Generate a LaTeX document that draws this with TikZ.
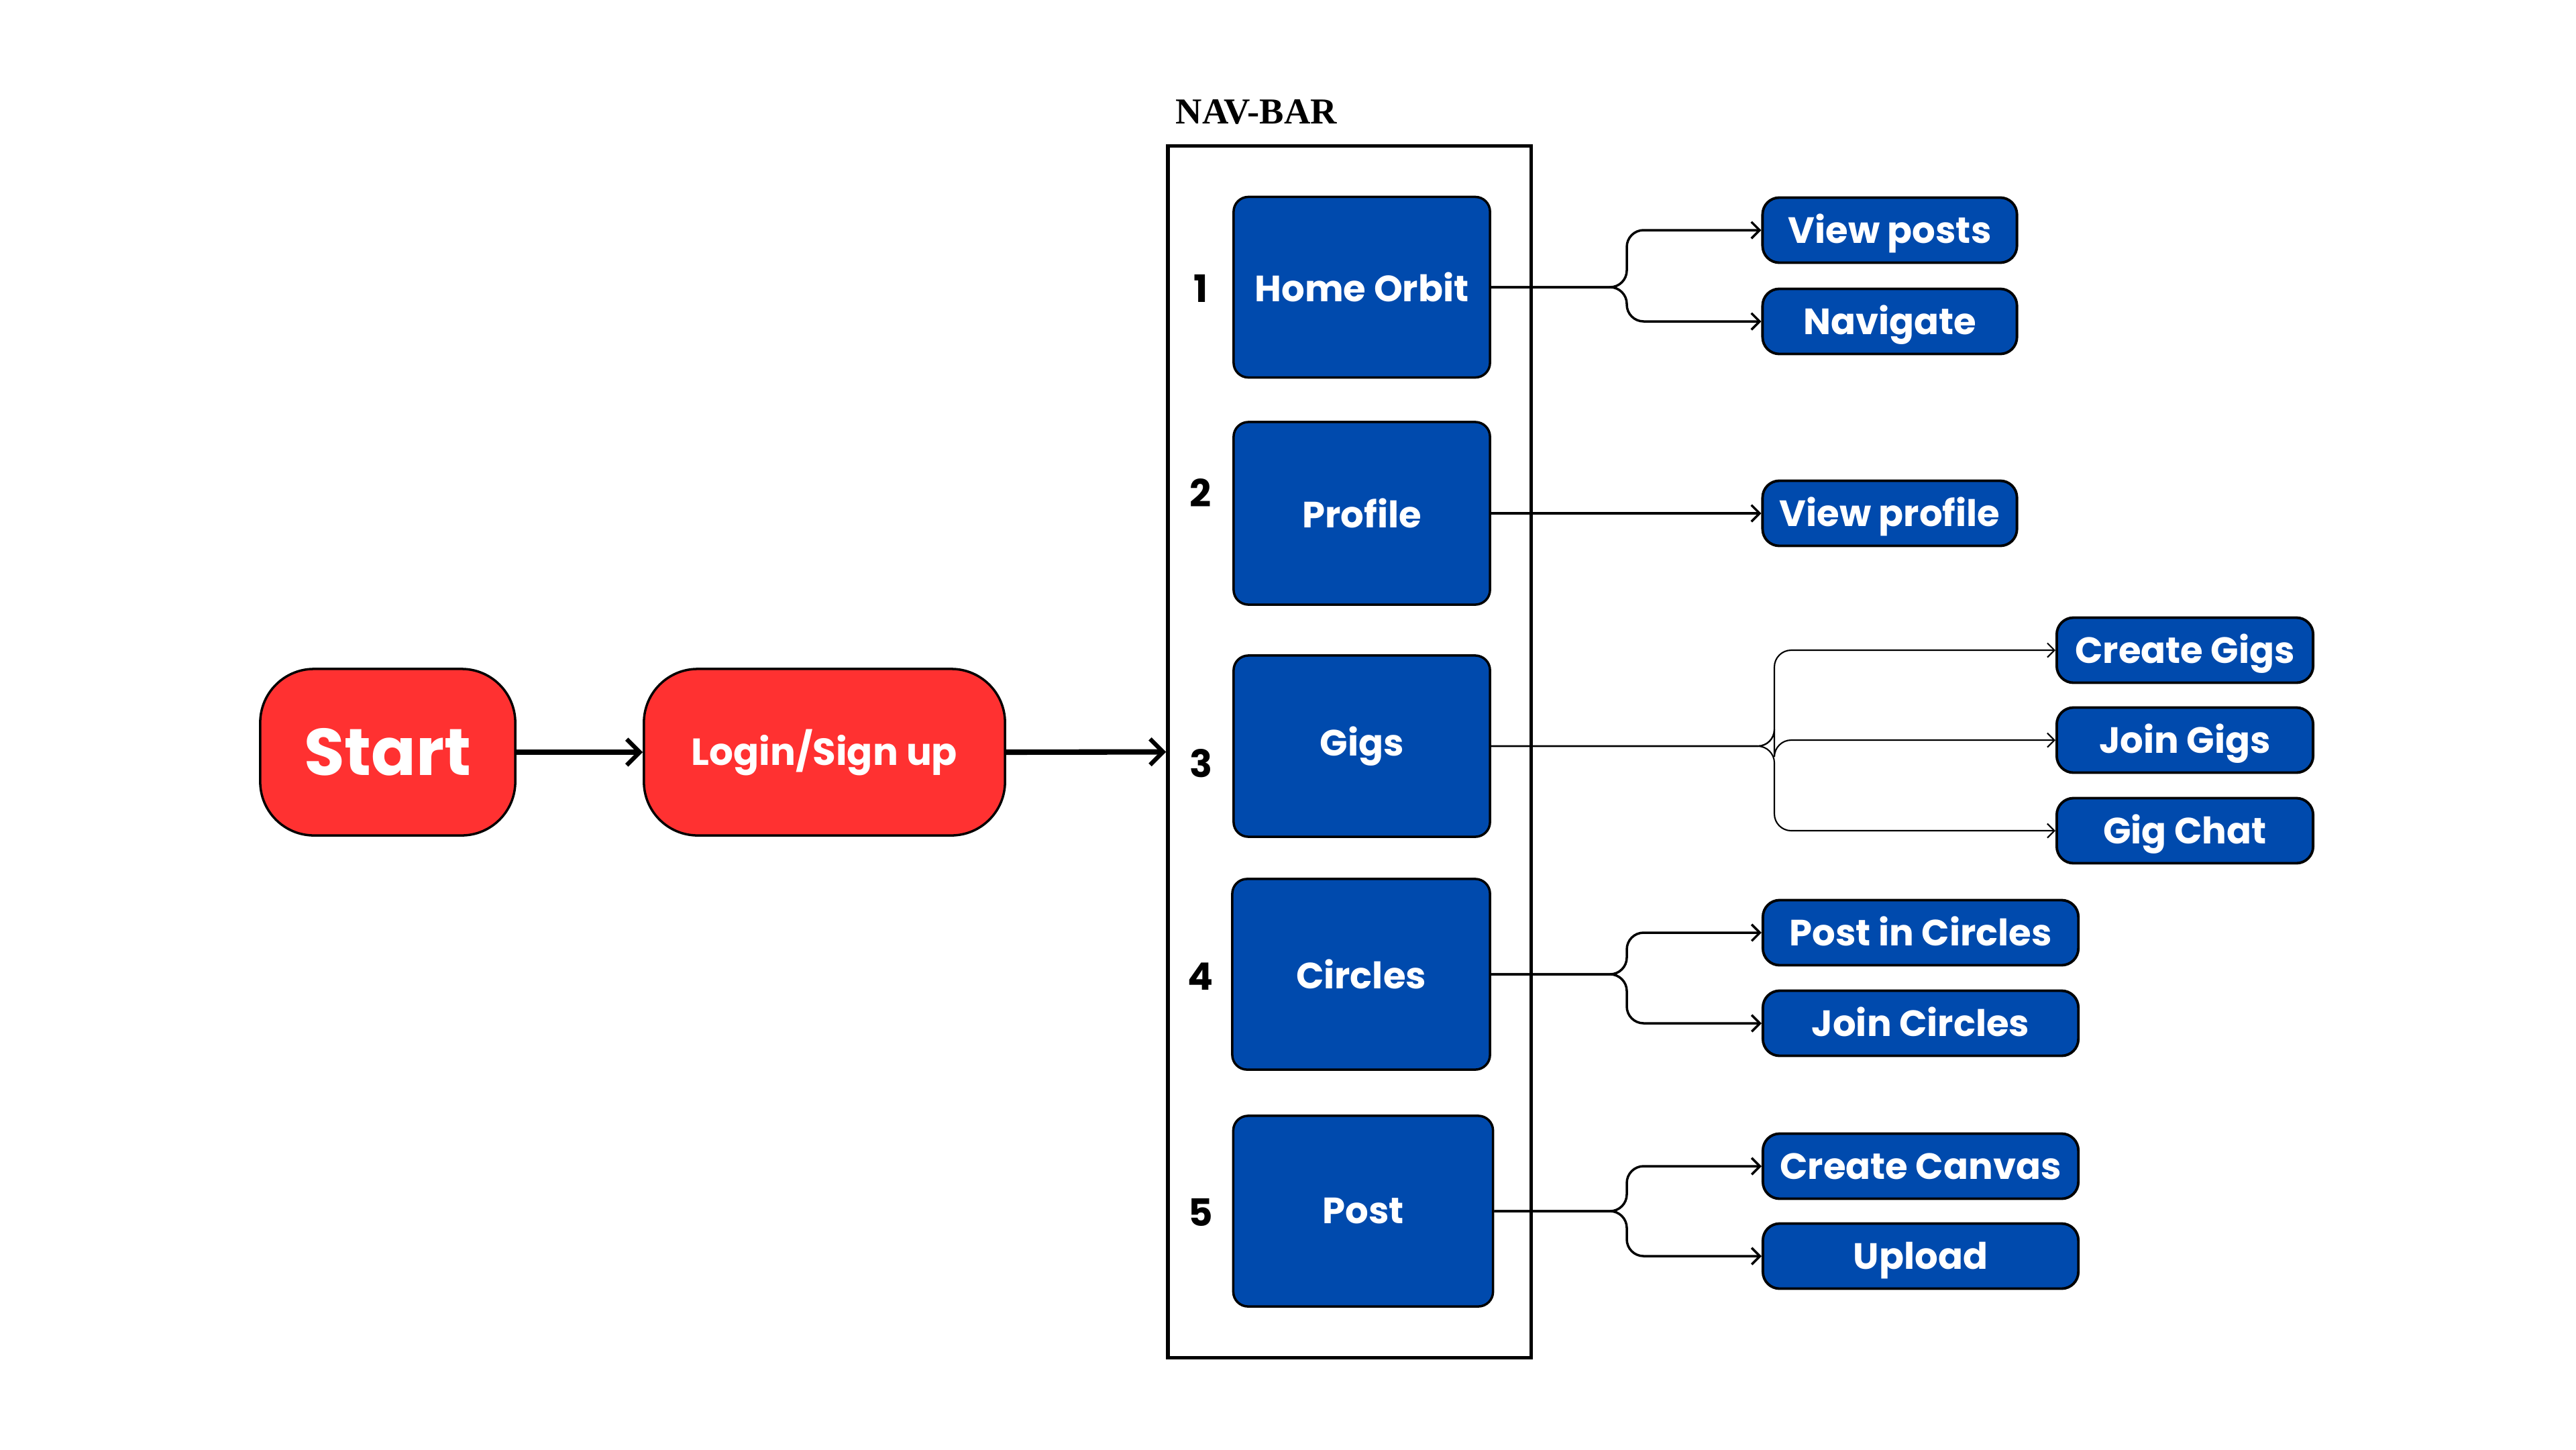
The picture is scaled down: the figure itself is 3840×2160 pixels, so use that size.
\documentclass[tikz,border=0pt]{standalone}
\usepackage{fontspec}
\setmainfont{Poppins}
\newfontfamily\navfont{Liberation Serif}
\usetikzlibrary{arrows.meta}
\definecolor{navblue}{HTML}{004AAD}
\definecolor{startred}{HTML}{FF3131}
\tikzset{
  redbox/.style={draw=black, line width=1pt, fill=startred, rounded corners=0.8cm,
    text=white, font=\bfseries\fontsize{16}{19}\selectfont, inner sep=0pt,
    minimum height=2.48cm},
  itembox/.style={draw=black, line width=1pt, fill=navblue, rounded corners=0.22cm,
    text=white, font=\bfseries\fontsize{15.5}{18}\selectfont, inner sep=0pt},
  subbox/.style={draw=black, line width=1.1pt, fill=navblue, rounded corners=0.25cm,
    text=white, font=\bfseries\fontsize{15.5}{18}\selectfont, inner sep=0pt,
    minimum height=0.97cm, text height=11pt, text depth=0pt},
  numlabel/.style={font=\bfseries\fontsize{16}{19}\selectfont, inner sep=0pt},
  mainarrow/.style={line width=2.3pt, -{Straight Barb[length=5.5pt,width=11pt,line width=1.8pt]}},
  branch/.style={line width=1pt, rounded corners=0.25cm,
    -{Straight Barb[length=3.5pt,width=7pt,line width=1pt]}},
  thinbranch/.style={line width=0.6pt, rounded corners=0.25cm,
    -{Straight Barb[length=3pt,width=6pt,line width=0.6pt]}},
}
\begin{document}
\begin{tikzpicture}[x=0.01cm,y=-0.01cm]
\useasboundingbox[fill=white] (0,0) rectangle (3840,2160);

% NAV-BAR frame
\node[draw=black, line width=1.5pt, minimum width=5.41cm, minimum height=18.05cm, inner sep=0pt] (nav) at (2011.5,1120.5) {};
\node[anchor=west, inner sep=0pt, font=\navfont\bfseries\fontsize{15.5}{18}\selectfont] (navlabel) at (1752,167) {NAV-BAR};

% start / login
\node[redbox, minimum width=3.8cm, font=\bfseries\fontsize{28}{32}\selectfont] (st) at (578,1121) {Start};
\node[redbox, minimum width=5.38cm] (li) at (1229,1121) {Login/Sign up};

% nav items
\node[itembox, minimum width=3.82cm, minimum height=2.69cm] (ho) at (2030,428) {Home Orbit};
\node[itembox, minimum width=3.82cm, minimum height=2.72cm] (pr) at (2030,765) {Profile};
\node[itembox, minimum width=3.82cm, minimum height=2.70cm] (gi) at (2030,1112) {Gigs};
\node[itembox, minimum width=3.84cm, minimum height=2.84cm] (ci) at (2029,1452) {Circles};
\node[itembox, minimum width=3.87cm, minimum height=2.84cm] (po) at (2032,1805) {Post};

% numbers
\node[numlabel] (n1) at (1790,430) {1};
\node[numlabel] (n2) at (1790,734) {2};
\node[numlabel] (n3) at (1790,1138) {3};
\node[numlabel] (n4) at (1790,1455) {4};
\node[numlabel] (n5) at (1790,1807) {5};

% sub boxes
\node[subbox, minimum width=3.79cm] (vp) at (2817,343) {View posts};
\node[subbox, minimum width=3.79cm] (nv) at (2817,479) {Navigate};
\node[subbox, minimum width=3.79cm] (vpr) at (2817,765) {View profile};
\node[subbox, minimum width=3.82cm] (cg) at (3257,969) {Create Gigs};
\node[subbox, minimum width=3.82cm] (jg) at (3257,1103) {Join Gigs};
\node[subbox, minimum width=3.82cm] (gc) at (3257,1238) {Gig Chat};
\node[subbox, minimum width=4.70cm] (pc) at (2863,1390) {Post in Circles};
\node[subbox, minimum width=4.70cm] (jc) at (2863,1525) {Join Circles};
\node[subbox, minimum width=4.70cm] (cc) at (2863,1738) {Create Canvas};
\node[subbox, minimum width=4.70cm] (up) at (2863,1872) {Upload};

% main arrows
\draw[mainarrow] (st.east) -- (li.west);
\draw[mainarrow] (li.east) -- (nav.west);

% branches
\draw[branch] (ho.east) -- (2425,428) |- (vp.west);
\draw[branch] (ho.east) -- (2425,428) |- (nv.west);
\draw[branch] (pr.east) -- (vpr.west);
\draw[thinbranch] (gi.east) -- (2645,1112) |- (cg.west);
\draw[thinbranch] (gi.east) -- (2645,1112) |- (jg.west);
\draw[thinbranch] (gi.east) -- (2645,1112) |- (gc.west);
\draw[branch] (ci.east) -- (2425,1452) |- (pc.west);
\draw[branch] (ci.east) -- (2425,1452) |- (jc.west);
\draw[branch] (po.east) -- (2425,1805) |- (cc.west);
\draw[branch] (po.east) -- (2425,1805) |- (up.west);
\end{tikzpicture}
\end{document}
